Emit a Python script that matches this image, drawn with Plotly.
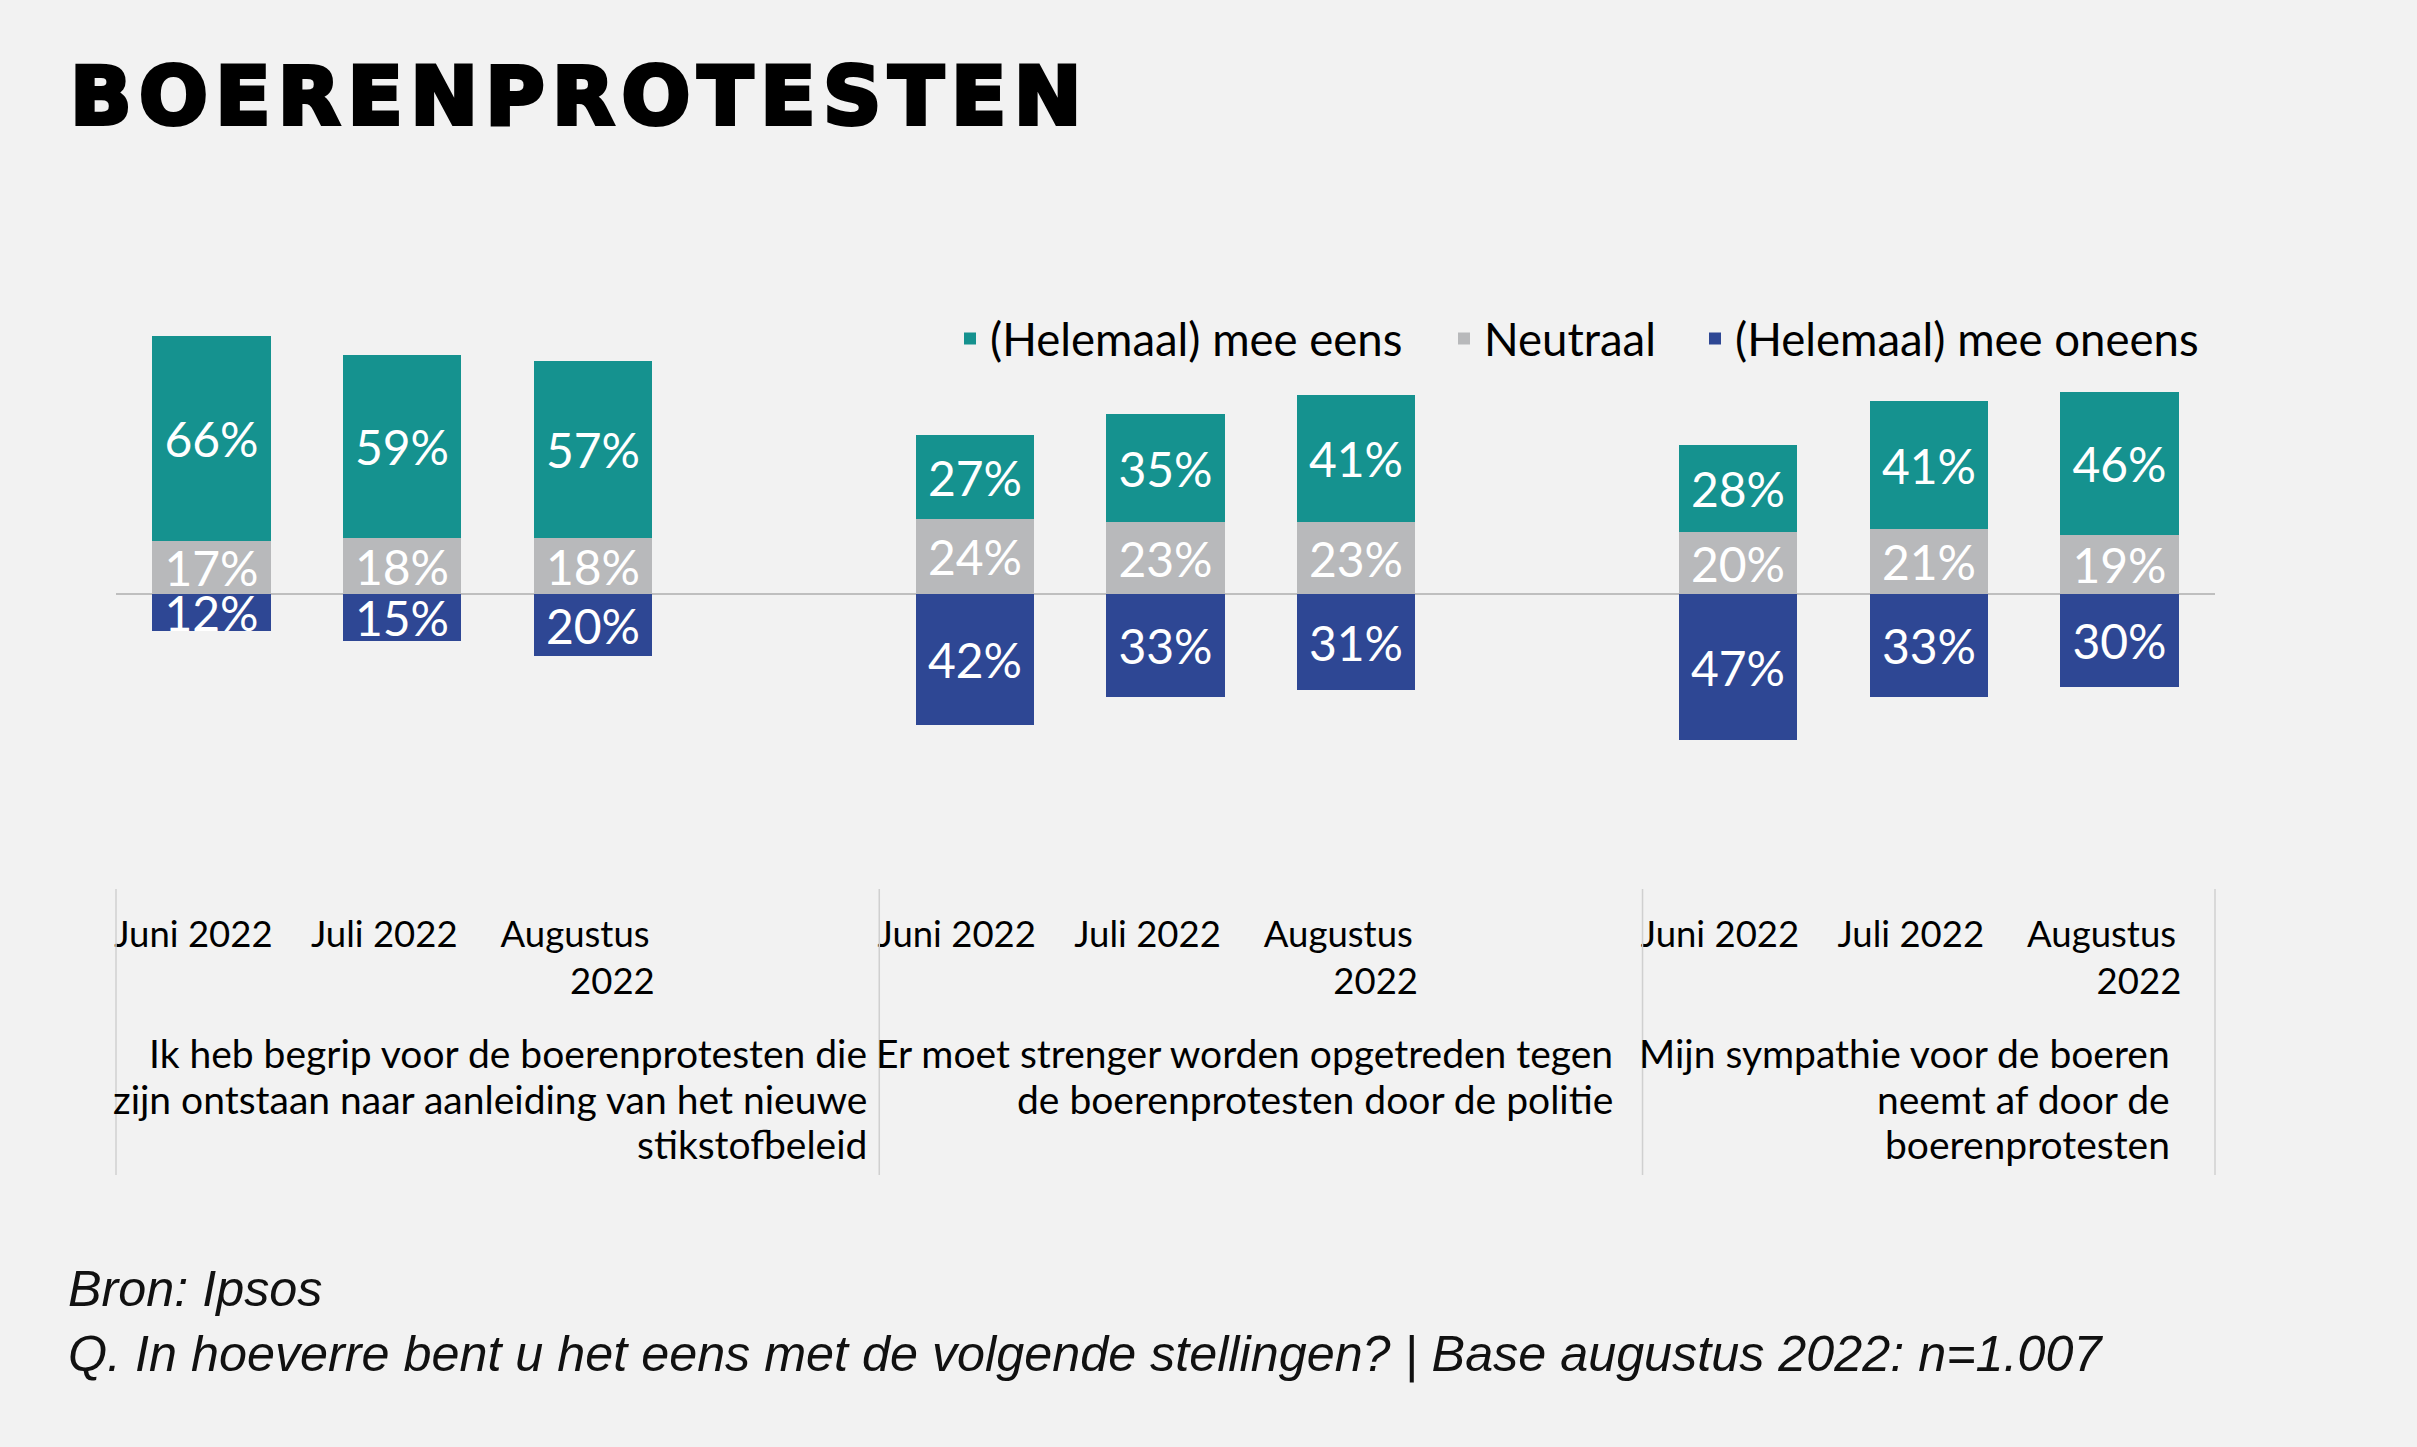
import plotly.graph_objects as go

# data
groups = [
    ["Ik heb begrip voor de boerenprotesten die",
     "zijn ontstaan naar aanleiding van het nieuwe",
     "stikstofbeleid"],
    ["Er moet strenger worden opgetreden tegen",
     "de boerenprotesten door de politie"],
    ["Mijn sympathie voor de boeren",
     "neemt af door de",
     "boerenprotesten"],
]
# nbsp padding pushes "2022" to the right like the right-aligned original
months = ["Juni 2022", "Juli 2022", "Augustus<br>" + "\u00a0" * 8 + "2022"]
eens     = [66, 59, 57, 27, 35, 41, 28, 41, 46]
neutraal = [17, 18, 18, 24, 23, 23, 20, 21, 19]
oneens   = [12, 15, 20, 42, 33, 31, 47, 33, 30]

# theme
BG     = "#F2F2F2"
TEAL   = "#15928F"
GREY   = "#B8B9BB"
BLUE   = "#2E4794"
LINE   = "#BFBFBF"
SANS   = "Lato"

W, H = 2417, 1447
L, R, T, B = 116, 202, 250, 558
PH = H - T - B

# 4 slots per group (3 months + gap)
xs = [g * 4 + m for g in range(len(groups)) for m in range(len(months))]
ticktext = months * len(groups)

def bar(name, vals, color, legend, sign=1):
    return go.Bar(
        x=xs, y=[sign * v for v in vals],
        name=name, legend=legend,
        marker=dict(color=color, line=dict(width=0)),
        width=0.62,
        text=[f"{v}%" for v in vals],
        textposition="inside", insidetextanchor="middle",
        textangle=0, constraintext="none",
        textfont=dict(color="white", size=48, family=SANS),
        hoverinfo="skip",
    )

fig = go.Figure()
fig.add_trace(bar("Neutraal", neutraal, GREY, "legend2"))
fig.add_trace(bar("(Helemaal) mee eens", eens, TEAL, "legend"))
fig.add_trace(bar("(Helemaal) mee oneens", oneens, BLUE, "legend3", sign=-1))

def leg(px):
    return dict(
        orientation="h", x=(px - L) / (W - L - R), xanchor="left",
        y=(H - B - 339) / PH, yanchor="middle",
        font=dict(family=SANS, size=45.5, color="black"),
        bgcolor="rgba(0,0,0,0)",
    )

fig.update_layout(
    width=W, height=H, autosize=False,
    paper_bgcolor=BG, plot_bgcolor=BG,
    barmode="relative", bargap=0,
    margin=dict(l=L, r=R, t=T, b=B, pad=0),
    font=dict(family=SANS, color="black"),
    title=dict(
        text="<span style='letter-spacing:7.3px;stroke:black;stroke-width:4px'>BOERENPROTESTEN</span>",
        font=dict(family="DejaVu Sans", size=81, color="black", weight="bold"),
        x=70 / W, xanchor="left", xref="container",
        y=1 - 67 / H, yanchor="top", yref="container",
        pad=dict(t=0, b=0, l=0, r=0),
    ),
    legend=leg(950),
    legend2=leg(1444),
    legend3=leg(1695),
    xaxis=dict(
        range=[-0.5, 10.5], tickvals=xs, ticktext=ticktext,
        showgrid=False, zeroline=False, showline=False, ticks="",
        tickfont=dict(family=SANS, size=36.5, color="black"),
        ticklabelshift=-18, ticklabelstandoff=20,
    ),
    yaxis=dict(
        range=[-94.86, 110.6], showgrid=False, showticklabels=False,
        zeroline=True, zerolinecolor=LINE, zerolinewidth=1.5,
    ),
    showlegend=True,
)

# statement labels under each group, one annotation per line
label_right = [3.446, 7.356, 10.276]
for lines, xr in zip(groups, label_right):
    for i, line in enumerate(lines):
        top = 1028 + i * 45.5
        fig.add_annotation(
            text=line, x=xr, xref="x", xanchor="right", align="right",
            y=(H - B - top) / PH, yref="paper", yanchor="top", showarrow=False,
            font=dict(family=SANS, size=39, color="black"),
        )

# group dividers
for xp in [0, 4 / 11, 8 / 11, 1]:
    fig.add_shape(type="line", xref="paper", yref="paper",
                  x0=xp, x1=xp, y0=0, y1=(H - B - 1175) / PH,
                  line=dict(color="#D0D0D0", width=1.5))

# footnote
fig.add_annotation(
    text="Bron: Ipsos<br>Q. In hoeverre bent u het eens met de volgende stellingen? | Base augustus 2022: n=1.007",
    xref="paper", yref="paper", x=(66 - L) / (W - L - R), xanchor="left", align="left",
    y=(H - B - 1258) / PH, yanchor="top", showarrow=False,
    font=dict(family="Liberation Sans", size=50.3, color="#111111", style="italic"),
)

fig.write_html("out.html", config={"displayModeBar": False},
               post_script="document.body.style.margin='0px';")
